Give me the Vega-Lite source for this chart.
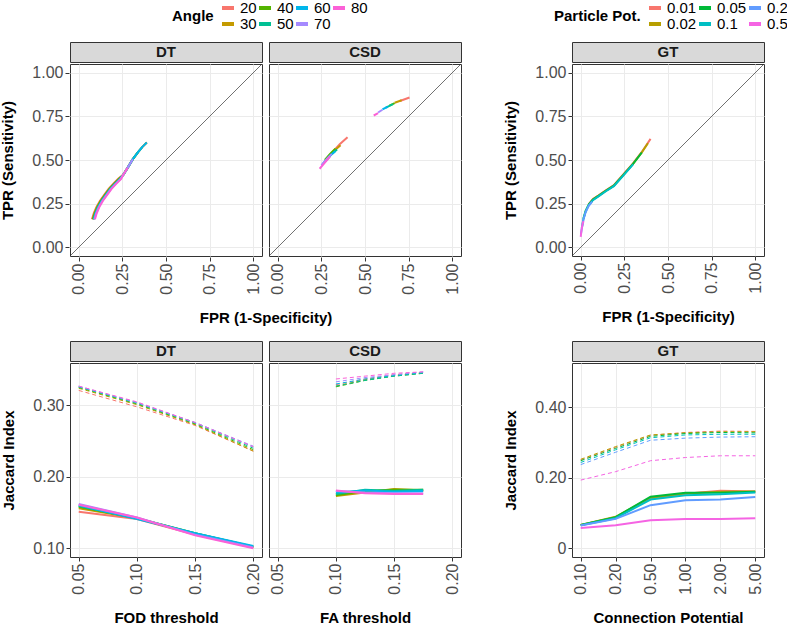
{
"$schema":"https://vega.github.io/schema/vega-lite/v6.json",
"padding":{"left":0,"top":0,"right":0,"bottom":0},
"config":{
 "font":"Liberation Sans",
 "view":{"stroke":"#333333","strokeWidth":1},
 "axis":{"labelFontSize":16,"labelColor":"#4D4D4D","titleFontSize":15,"titleFontWeight":"bold","titleColor":"#000000","tickColor":"#333333","tickSize":4,"domain":false,"gridColor":"#EBEBEB","labelPadding":2,"titlePadding":16,"labelOverlap":false,"labelFlush":false},
 "axisX":{"labelAngle":270},
 "legend":{"orient":"none","direction":"horizontal","titleOrient":"left","titleFontSize":15,"titleFontWeight":"bold","titleColor":"#000000","labelFontSize":15,"labelColor":"#000000","symbolType":"stroke","symbolSize":144,"symbolStrokeWidth":4,"rowPadding":0,"columnPadding":-8,"labelOffset":4,"titlePadding":6}
},
"datasets":{
 "roc":[
  {"panel":"DT","part":"diag","fpr":-0.05,"tpr":-0.05},{"panel":"DT","part":"diag","fpr":1.05,"tpr":1.05},
  {"panel":"CSD","part":"diag","fpr":-0.05,"tpr":-0.05},{"panel":"CSD","part":"diag","fpr":1.05,"tpr":1.05},
  {"panel":"DT","angle":20,"part":"a","fpr":0.076,"tpr":0.160},{"panel":"DT","angle":20,"part":"a","fpr":0.086,"tpr":0.195},{"panel":"DT","angle":20,"part":"a","fpr":0.101,"tpr":0.230},{"panel":"DT","angle":20,"part":"a","fpr":0.121,"tpr":0.265},{"panel":"DT","angle":20,"part":"a","fpr":0.146,"tpr":0.300},{"panel":"DT","angle":20,"part":"a","fpr":0.171,"tpr":0.335},{"panel":"DT","angle":20,"part":"a","fpr":0.196,"tpr":0.362},{"panel":"DT","angle":20,"part":"a","fpr":0.226,"tpr":0.392},{"panel":"DT","angle":20,"part":"a","fpr":0.255,"tpr":0.415},{"panel":"DT","angle":20,"part":"a","fpr":0.280,"tpr":0.455},{"panel":"DT","angle":20,"part":"a","fpr":0.310,"tpr":0.505},{"panel":"DT","angle":20,"part":"a","fpr":0.340,"tpr":0.545},{"panel":"DT","angle":20,"part":"a","fpr":0.365,"tpr":0.575},{"panel":"DT","angle":20,"part":"a","fpr":0.390,"tpr":0.600},
  {"panel":"DT","angle":30,"part":"a","fpr":0.079,"tpr":0.160},{"panel":"DT","angle":30,"part":"a","fpr":0.089,"tpr":0.195},{"panel":"DT","angle":30,"part":"a","fpr":0.104,"tpr":0.230},{"panel":"DT","angle":30,"part":"a","fpr":0.124,"tpr":0.265},{"panel":"DT","angle":30,"part":"a","fpr":0.149,"tpr":0.300},{"panel":"DT","angle":30,"part":"a","fpr":0.174,"tpr":0.335},{"panel":"DT","angle":30,"part":"a","fpr":0.199,"tpr":0.362},{"panel":"DT","angle":30,"part":"a","fpr":0.229,"tpr":0.392},{"panel":"DT","angle":30,"part":"a","fpr":0.255,"tpr":0.415},{"panel":"DT","angle":30,"part":"a","fpr":0.280,"tpr":0.455},{"panel":"DT","angle":30,"part":"a","fpr":0.310,"tpr":0.505},{"panel":"DT","angle":30,"part":"a","fpr":0.340,"tpr":0.545},{"panel":"DT","angle":30,"part":"a","fpr":0.365,"tpr":0.575},{"panel":"DT","angle":30,"part":"a","fpr":0.390,"tpr":0.600},
  {"panel":"DT","angle":40,"part":"a","fpr":0.082,"tpr":0.160},{"panel":"DT","angle":40,"part":"a","fpr":0.092,"tpr":0.195},{"panel":"DT","angle":40,"part":"a","fpr":0.107,"tpr":0.230},{"panel":"DT","angle":40,"part":"a","fpr":0.127,"tpr":0.265},{"panel":"DT","angle":40,"part":"a","fpr":0.152,"tpr":0.300},{"panel":"DT","angle":40,"part":"a","fpr":0.177,"tpr":0.335},{"panel":"DT","angle":40,"part":"a","fpr":0.202,"tpr":0.362},{"panel":"DT","angle":40,"part":"a","fpr":0.232,"tpr":0.392},{"panel":"DT","angle":40,"part":"a","fpr":0.255,"tpr":0.415},{"panel":"DT","angle":40,"part":"a","fpr":0.280,"tpr":0.455},{"panel":"DT","angle":40,"part":"a","fpr":0.310,"tpr":0.505},{"panel":"DT","angle":40,"part":"a","fpr":0.340,"tpr":0.545},
  {"panel":"DT","angle":50,"part":"a","fpr":0.085,"tpr":0.160},{"panel":"DT","angle":50,"part":"a","fpr":0.095,"tpr":0.195},{"panel":"DT","angle":50,"part":"a","fpr":0.110,"tpr":0.230},{"panel":"DT","angle":50,"part":"a","fpr":0.130,"tpr":0.265},{"panel":"DT","angle":50,"part":"a","fpr":0.155,"tpr":0.300},{"panel":"DT","angle":50,"part":"a","fpr":0.180,"tpr":0.335},{"panel":"DT","angle":50,"part":"a","fpr":0.205,"tpr":0.362},{"panel":"DT","angle":50,"part":"a","fpr":0.235,"tpr":0.392},{"panel":"DT","angle":50,"part":"a","fpr":0.255,"tpr":0.415},{"panel":"DT","angle":50,"part":"a","fpr":0.280,"tpr":0.455},{"panel":"DT","angle":50,"part":"a","fpr":0.310,"tpr":0.505},{"panel":"DT","angle":50,"part":"a","fpr":0.340,"tpr":0.545},{"panel":"DT","angle":50,"part":"a","fpr":0.365,"tpr":0.575},
  {"panel":"DT","angle":60,"part":"a","fpr":0.087,"tpr":0.160},{"panel":"DT","angle":60,"part":"a","fpr":0.097,"tpr":0.195},{"panel":"DT","angle":60,"part":"a","fpr":0.112,"tpr":0.230},{"panel":"DT","angle":60,"part":"a","fpr":0.132,"tpr":0.265},{"panel":"DT","angle":60,"part":"a","fpr":0.157,"tpr":0.300},{"panel":"DT","angle":60,"part":"a","fpr":0.182,"tpr":0.335},{"panel":"DT","angle":60,"part":"a","fpr":0.207,"tpr":0.362},{"panel":"DT","angle":60,"part":"a","fpr":0.237,"tpr":0.392},{"panel":"DT","angle":60,"part":"a","fpr":0.255,"tpr":0.415},{"panel":"DT","angle":60,"part":"a","fpr":0.280,"tpr":0.455},{"panel":"DT","angle":60,"part":"a","fpr":0.310,"tpr":0.505},{"panel":"DT","angle":60,"part":"a","fpr":0.340,"tpr":0.545},{"panel":"DT","angle":60,"part":"a","fpr":0.365,"tpr":0.575},{"panel":"DT","angle":60,"part":"a","fpr":0.390,"tpr":0.600},
  {"panel":"DT","angle":70,"part":"a","fpr":0.090,"tpr":0.160},{"panel":"DT","angle":70,"part":"a","fpr":0.100,"tpr":0.195},{"panel":"DT","angle":70,"part":"a","fpr":0.115,"tpr":0.230},{"panel":"DT","angle":70,"part":"a","fpr":0.135,"tpr":0.265},{"panel":"DT","angle":70,"part":"a","fpr":0.160,"tpr":0.300},{"panel":"DT","angle":70,"part":"a","fpr":0.185,"tpr":0.335},{"panel":"DT","angle":70,"part":"a","fpr":0.210,"tpr":0.362},{"panel":"DT","angle":70,"part":"a","fpr":0.240,"tpr":0.392},{"panel":"DT","angle":70,"part":"a","fpr":0.255,"tpr":0.415},{"panel":"DT","angle":70,"part":"a","fpr":0.280,"tpr":0.455},{"panel":"DT","angle":70,"part":"a","fpr":0.310,"tpr":0.505},
  {"panel":"DT","angle":80,"part":"a","fpr":0.093,"tpr":0.160},{"panel":"DT","angle":80,"part":"a","fpr":0.103,"tpr":0.195},{"panel":"DT","angle":80,"part":"a","fpr":0.118,"tpr":0.230},{"panel":"DT","angle":80,"part":"a","fpr":0.138,"tpr":0.265},{"panel":"DT","angle":80,"part":"a","fpr":0.163,"tpr":0.300},{"panel":"DT","angle":80,"part":"a","fpr":0.188,"tpr":0.335},{"panel":"DT","angle":80,"part":"a","fpr":0.213,"tpr":0.362},{"panel":"DT","angle":80,"part":"a","fpr":0.243,"tpr":0.392},{"panel":"DT","angle":80,"part":"a","fpr":0.255,"tpr":0.415},{"panel":"DT","angle":80,"part":"a","fpr":0.280,"tpr":0.455},
  {"panel":"CSD","angle":20,"part":"a","fpr":0.310,"tpr":0.540},{"panel":"CSD","angle":20,"part":"a","fpr":0.355,"tpr":0.590},{"panel":"CSD","angle":20,"part":"a","fpr":0.400,"tpr":0.630},
  {"panel":"CSD","angle":20,"part":"b","fpr":0.700,"tpr":0.838},{"panel":"CSD","angle":20,"part":"b","fpr":0.755,"tpr":0.858},
  {"panel":"CSD","angle":30,"part":"a","fpr":0.290,"tpr":0.520},{"panel":"CSD","angle":30,"part":"a","fpr":0.325,"tpr":0.555},{"panel":"CSD","angle":30,"part":"a","fpr":0.360,"tpr":0.585},
  {"panel":"CSD","angle":30,"part":"b","fpr":0.670,"tpr":0.828},{"panel":"CSD","angle":30,"part":"b","fpr":0.710,"tpr":0.842},
  {"panel":"CSD","angle":40,"part":"a","fpr":0.270,"tpr":0.500},{"panel":"CSD","angle":40,"part":"a","fpr":0.300,"tpr":0.535},{"panel":"CSD","angle":40,"part":"a","fpr":0.330,"tpr":0.565},
  {"panel":"CSD","angle":40,"part":"b","fpr":0.640,"tpr":0.812},{"panel":"CSD","angle":40,"part":"b","fpr":0.670,"tpr":0.826},
  {"panel":"CSD","angle":50,"part":"a","fpr":0.270,"tpr":0.490},{"panel":"CSD","angle":50,"part":"a","fpr":0.305,"tpr":0.530},{"panel":"CSD","angle":50,"part":"a","fpr":0.340,"tpr":0.560},
  {"panel":"CSD","angle":50,"part":"b","fpr":0.620,"tpr":0.800},{"panel":"CSD","angle":50,"part":"b","fpr":0.660,"tpr":0.820},
  {"panel":"CSD","angle":60,"part":"a","fpr":0.260,"tpr":0.480},{"panel":"CSD","angle":60,"part":"a","fpr":0.295,"tpr":0.520},{"panel":"CSD","angle":60,"part":"a","fpr":0.330,"tpr":0.550},
  {"panel":"CSD","angle":60,"part":"b","fpr":0.600,"tpr":0.790},{"panel":"CSD","angle":60,"part":"b","fpr":0.630,"tpr":0.805},
  {"panel":"CSD","angle":70,"part":"a","fpr":0.250,"tpr":0.470},{"panel":"CSD","angle":70,"part":"a","fpr":0.280,"tpr":0.505},{"panel":"CSD","angle":70,"part":"a","fpr":0.310,"tpr":0.535},
  {"panel":"CSD","angle":70,"part":"b","fpr":0.575,"tpr":0.772},{"panel":"CSD","angle":70,"part":"b","fpr":0.600,"tpr":0.788},
  {"panel":"CSD","angle":80,"part":"a","fpr":0.240,"tpr":0.450},{"panel":"CSD","angle":80,"part":"a","fpr":0.270,"tpr":0.485},{"panel":"CSD","angle":80,"part":"a","fpr":0.300,"tpr":0.520},
  {"panel":"CSD","angle":80,"part":"b","fpr":0.550,"tpr":0.755},{"panel":"CSD","angle":80,"part":"b","fpr":0.575,"tpr":0.768}
 ],
 "diag":[{"fpr":-0.05,"tpr":-0.05},{"fpr":1.05,"tpr":1.05}],
 "gtroc":[
  {"pp":"0.01","fpr":0.045,"tpr":0.246},{"pp":"0.01","fpr":0.070,"tpr":0.276},{"pp":"0.01","fpr":0.100,"tpr":0.296},{"pp":"0.01","fpr":0.140,"tpr":0.324},{"pp":"0.01","fpr":0.190,"tpr":0.356},{"pp":"0.01","fpr":0.250,"tpr":0.424},{"pp":"0.01","fpr":0.300,"tpr":0.481},{"pp":"0.01","fpr":0.350,"tpr":0.546},{"pp":"0.01","fpr":0.400,"tpr":0.621},
  {"pp":"0.02","fpr":0.045,"tpr":0.244},{"pp":"0.02","fpr":0.070,"tpr":0.274},{"pp":"0.02","fpr":0.100,"tpr":0.294},{"pp":"0.02","fpr":0.140,"tpr":0.322},{"pp":"0.02","fpr":0.190,"tpr":0.354},{"pp":"0.02","fpr":0.250,"tpr":0.422},{"pp":"0.02","fpr":0.300,"tpr":0.479},{"pp":"0.02","fpr":0.350,"tpr":0.544},{"pp":"0.02","fpr":0.385,"tpr":0.596},
  {"pp":"0.05","fpr":0.015,"tpr":0.163},{"pp":"0.05","fpr":0.028,"tpr":0.208},{"pp":"0.05","fpr":0.045,"tpr":0.243},{"pp":"0.05","fpr":0.070,"tpr":0.273},{"pp":"0.05","fpr":0.100,"tpr":0.293},{"pp":"0.05","fpr":0.140,"tpr":0.321},{"pp":"0.05","fpr":0.190,"tpr":0.353},{"pp":"0.05","fpr":0.250,"tpr":0.421},{"pp":"0.05","fpr":0.300,"tpr":0.478},{"pp":"0.05","fpr":0.350,"tpr":0.543},
  {"pp":"0.1","fpr":0.006,"tpr":0.110},{"pp":"0.1","fpr":0.015,"tpr":0.160},{"pp":"0.1","fpr":0.028,"tpr":0.205},{"pp":"0.1","fpr":0.045,"tpr":0.240},{"pp":"0.1","fpr":0.070,"tpr":0.270},{"pp":"0.1","fpr":0.100,"tpr":0.290},{"pp":"0.1","fpr":0.140,"tpr":0.318},{"pp":"0.1","fpr":0.190,"tpr":0.350},{"pp":"0.1","fpr":0.250,"tpr":0.418},{"pp":"0.1","fpr":0.300,"tpr":0.475},
  {"pp":"0.2","fpr":0.001,"tpr":0.075},{"pp":"0.2","fpr":0.006,"tpr":0.106},{"pp":"0.2","fpr":0.015,"tpr":0.156},{"pp":"0.2","fpr":0.028,"tpr":0.201},{"pp":"0.2","fpr":0.045,"tpr":0.236},{"pp":"0.2","fpr":0.065,"tpr":0.262},
  {"pp":"0.5","fpr":0.000,"tpr":0.060},{"pp":"0.5","fpr":0.004,"tpr":0.095},{"pp":"0.5","fpr":0.010,"tpr":0.130},{"pp":"0.5","fpr":0.016,"tpr":0.150}
 ],
 "jac":[
  {"panel":"DT","angle":20,"type":"dashed","thr":0.05,"jac":0.321},{"panel":"DT","angle":20,"type":"dashed","thr":0.10,"jac":0.298},{"panel":"DT","angle":20,"type":"dashed","thr":0.15,"jac":0.272},{"panel":"DT","angle":20,"type":"dashed","thr":0.20,"jac":0.236},
  {"panel":"DT","angle":30,"type":"dashed","thr":0.05,"jac":0.324},{"panel":"DT","angle":30,"type":"dashed","thr":0.10,"jac":0.301},{"panel":"DT","angle":30,"type":"dashed","thr":0.15,"jac":0.273},{"panel":"DT","angle":30,"type":"dashed","thr":0.20,"jac":0.236},
  {"panel":"DT","angle":40,"type":"dashed","thr":0.05,"jac":0.325},{"panel":"DT","angle":40,"type":"dashed","thr":0.10,"jac":0.302},{"panel":"DT","angle":40,"type":"dashed","thr":0.15,"jac":0.274},{"panel":"DT","angle":40,"type":"dashed","thr":0.20,"jac":0.238},
  {"panel":"DT","angle":50,"type":"dashed","thr":0.05,"jac":0.326},{"panel":"DT","angle":50,"type":"dashed","thr":0.10,"jac":0.303},{"panel":"DT","angle":50,"type":"dashed","thr":0.15,"jac":0.275},{"panel":"DT","angle":50,"type":"dashed","thr":0.20,"jac":0.240},
  {"panel":"DT","angle":60,"type":"dashed","thr":0.05,"jac":0.326},{"panel":"DT","angle":60,"type":"dashed","thr":0.10,"jac":0.304},{"panel":"DT","angle":60,"type":"dashed","thr":0.15,"jac":0.276},{"panel":"DT","angle":60,"type":"dashed","thr":0.20,"jac":0.242},
  {"panel":"DT","angle":70,"type":"dashed","thr":0.05,"jac":0.327},{"panel":"DT","angle":70,"type":"dashed","thr":0.10,"jac":0.304},{"panel":"DT","angle":70,"type":"dashed","thr":0.15,"jac":0.276},{"panel":"DT","angle":70,"type":"dashed","thr":0.20,"jac":0.243},
  {"panel":"DT","angle":80,"type":"dashed","thr":0.05,"jac":0.327},{"panel":"DT","angle":80,"type":"dashed","thr":0.10,"jac":0.305},{"panel":"DT","angle":80,"type":"dashed","thr":0.15,"jac":0.276},{"panel":"DT","angle":80,"type":"dashed","thr":0.20,"jac":0.242},
  {"panel":"DT","angle":20,"type":"solid","thr":0.05,"jac":0.151},{"panel":"DT","angle":20,"type":"solid","thr":0.10,"jac":0.141},{"panel":"DT","angle":20,"type":"solid","thr":0.15,"jac":0.119},{"panel":"DT","angle":20,"type":"solid","thr":0.20,"jac":0.101},
  {"panel":"DT","angle":30,"type":"solid","thr":0.05,"jac":0.156},{"panel":"DT","angle":30,"type":"solid","thr":0.10,"jac":0.142},{"panel":"DT","angle":30,"type":"solid","thr":0.15,"jac":0.120},{"panel":"DT","angle":30,"type":"solid","thr":0.20,"jac":0.101},
  {"panel":"DT","angle":40,"type":"solid","thr":0.05,"jac":0.158},{"panel":"DT","angle":40,"type":"solid","thr":0.10,"jac":0.142},{"panel":"DT","angle":40,"type":"solid","thr":0.15,"jac":0.121},{"panel":"DT","angle":40,"type":"solid","thr":0.20,"jac":0.102},
  {"panel":"DT","angle":50,"type":"solid","thr":0.05,"jac":0.159},{"panel":"DT","angle":50,"type":"solid","thr":0.10,"jac":0.142},{"panel":"DT","angle":50,"type":"solid","thr":0.15,"jac":0.121},{"panel":"DT","angle":50,"type":"solid","thr":0.20,"jac":0.102},
  {"panel":"DT","angle":60,"type":"solid","thr":0.05,"jac":0.160},{"panel":"DT","angle":60,"type":"solid","thr":0.10,"jac":0.141},{"panel":"DT","angle":60,"type":"solid","thr":0.15,"jac":0.121},{"panel":"DT","angle":60,"type":"solid","thr":0.20,"jac":0.103},
  {"panel":"DT","angle":70,"type":"solid","thr":0.05,"jac":0.162},{"panel":"DT","angle":70,"type":"solid","thr":0.10,"jac":0.143},{"panel":"DT","angle":70,"type":"solid","thr":0.15,"jac":0.119},{"panel":"DT","angle":70,"type":"solid","thr":0.20,"jac":0.101},
  {"panel":"DT","angle":80,"type":"solid","thr":0.05,"jac":0.161},{"panel":"DT","angle":80,"type":"solid","thr":0.10,"jac":0.143},{"panel":"DT","angle":80,"type":"solid","thr":0.15,"jac":0.118},{"panel":"DT","angle":80,"type":"solid","thr":0.20,"jac":0.100},
  {"panel":"CSD","angle":20,"type":"dashed","thr":0.10,"jac":0.329},{"panel":"CSD","angle":20,"type":"dashed","thr":0.125,"jac":0.337},{"panel":"CSD","angle":20,"type":"dashed","thr":0.15,"jac":0.343},{"panel":"CSD","angle":20,"type":"dashed","thr":0.175,"jac":0.346},
  {"panel":"CSD","angle":30,"type":"dashed","thr":0.10,"jac":0.327},{"panel":"CSD","angle":30,"type":"dashed","thr":0.125,"jac":0.336},{"panel":"CSD","angle":30,"type":"dashed","thr":0.15,"jac":0.342},{"panel":"CSD","angle":30,"type":"dashed","thr":0.175,"jac":0.346},
  {"panel":"CSD","angle":40,"type":"dashed","thr":0.10,"jac":0.326},{"panel":"CSD","angle":40,"type":"dashed","thr":0.125,"jac":0.335},{"panel":"CSD","angle":40,"type":"dashed","thr":0.15,"jac":0.341},{"panel":"CSD","angle":40,"type":"dashed","thr":0.175,"jac":0.345},
  {"panel":"CSD","angle":50,"type":"dashed","thr":0.10,"jac":0.327},{"panel":"CSD","angle":50,"type":"dashed","thr":0.125,"jac":0.335},{"panel":"CSD","angle":50,"type":"dashed","thr":0.15,"jac":0.341},{"panel":"CSD","angle":50,"type":"dashed","thr":0.175,"jac":0.345},
  {"panel":"CSD","angle":60,"type":"dashed","thr":0.10,"jac":0.330},{"panel":"CSD","angle":60,"type":"dashed","thr":0.125,"jac":0.337},{"panel":"CSD","angle":60,"type":"dashed","thr":0.15,"jac":0.342},{"panel":"CSD","angle":60,"type":"dashed","thr":0.175,"jac":0.346},
  {"panel":"CSD","angle":70,"type":"dashed","thr":0.10,"jac":0.333},{"panel":"CSD","angle":70,"type":"dashed","thr":0.125,"jac":0.339},{"panel":"CSD","angle":70,"type":"dashed","thr":0.15,"jac":0.343},{"panel":"CSD","angle":70,"type":"dashed","thr":0.175,"jac":0.347},
  {"panel":"CSD","angle":80,"type":"dashed","thr":0.10,"jac":0.337},{"panel":"CSD","angle":80,"type":"dashed","thr":0.125,"jac":0.341},{"panel":"CSD","angle":80,"type":"dashed","thr":0.15,"jac":0.345},{"panel":"CSD","angle":80,"type":"dashed","thr":0.175,"jac":0.347},
  {"panel":"CSD","angle":20,"type":"solid","thr":0.10,"jac":0.176},{"panel":"CSD","angle":20,"type":"solid","thr":0.125,"jac":0.179},{"panel":"CSD","angle":20,"type":"solid","thr":0.15,"jac":0.181},{"panel":"CSD","angle":20,"type":"solid","thr":0.175,"jac":0.180},
  {"panel":"CSD","angle":30,"type":"solid","thr":0.10,"jac":0.173},{"panel":"CSD","angle":30,"type":"solid","thr":0.125,"jac":0.178},{"panel":"CSD","angle":30,"type":"solid","thr":0.15,"jac":0.183},{"panel":"CSD","angle":30,"type":"solid","thr":0.175,"jac":0.181},
  {"panel":"CSD","angle":40,"type":"solid","thr":0.10,"jac":0.174},{"panel":"CSD","angle":40,"type":"solid","thr":0.125,"jac":0.180},{"panel":"CSD","angle":40,"type":"solid","thr":0.15,"jac":0.182},{"panel":"CSD","angle":40,"type":"solid","thr":0.175,"jac":0.182},
  {"panel":"CSD","angle":50,"type":"solid","thr":0.10,"jac":0.176},{"panel":"CSD","angle":50,"type":"solid","thr":0.125,"jac":0.182},{"panel":"CSD","angle":50,"type":"solid","thr":0.15,"jac":0.180},{"panel":"CSD","angle":50,"type":"solid","thr":0.175,"jac":0.182},
  {"panel":"CSD","angle":60,"type":"solid","thr":0.10,"jac":0.178},{"panel":"CSD","angle":60,"type":"solid","thr":0.125,"jac":0.181},{"panel":"CSD","angle":60,"type":"solid","thr":0.15,"jac":0.179},{"panel":"CSD","angle":60,"type":"solid","thr":0.175,"jac":0.180},
  {"panel":"CSD","angle":70,"type":"solid","thr":0.10,"jac":0.180},{"panel":"CSD","angle":70,"type":"solid","thr":0.125,"jac":0.178},{"panel":"CSD","angle":70,"type":"solid","thr":0.15,"jac":0.177},{"panel":"CSD","angle":70,"type":"solid","thr":0.175,"jac":0.177},
  {"panel":"CSD","angle":80,"type":"solid","thr":0.10,"jac":0.181},{"panel":"CSD","angle":80,"type":"solid","thr":0.125,"jac":0.177},{"panel":"CSD","angle":80,"type":"solid","thr":0.15,"jac":0.176},{"panel":"CSD","angle":80,"type":"solid","thr":0.175,"jac":0.176}
 ],
 "gtjac":[
  {"pp":"0.01","type":"dashed","cp":"0.10","jac":0.250},{"pp":"0.01","type":"dashed","cp":"0.20","jac":0.286},{"pp":"0.01","type":"dashed","cp":"0.50","jac":0.320},{"pp":"0.01","type":"dashed","cp":"1.00","jac":0.328},{"pp":"0.01","type":"dashed","cp":"2.00","jac":0.332},{"pp":"0.01","type":"dashed","cp":"5.00","jac":0.331},
  {"pp":"0.02","type":"dashed","cp":"0.10","jac":0.252},{"pp":"0.02","type":"dashed","cp":"0.20","jac":0.288},{"pp":"0.02","type":"dashed","cp":"0.50","jac":0.321},{"pp":"0.02","type":"dashed","cp":"1.00","jac":0.327},{"pp":"0.02","type":"dashed","cp":"2.00","jac":0.330},{"pp":"0.02","type":"dashed","cp":"5.00","jac":0.330},
  {"pp":"0.05","type":"dashed","cp":"0.10","jac":0.248},{"pp":"0.05","type":"dashed","cp":"0.20","jac":0.283},{"pp":"0.05","type":"dashed","cp":"0.50","jac":0.317},{"pp":"0.05","type":"dashed","cp":"1.00","jac":0.325},{"pp":"0.05","type":"dashed","cp":"2.00","jac":0.328},{"pp":"0.05","type":"dashed","cp":"5.00","jac":0.327},
  {"pp":"0.1","type":"dashed","cp":"0.10","jac":0.243},{"pp":"0.1","type":"dashed","cp":"0.20","jac":0.279},{"pp":"0.1","type":"dashed","cp":"0.50","jac":0.313},{"pp":"0.1","type":"dashed","cp":"1.00","jac":0.321},{"pp":"0.1","type":"dashed","cp":"2.00","jac":0.323},{"pp":"0.1","type":"dashed","cp":"5.00","jac":0.323},
  {"pp":"0.2","type":"dashed","cp":"0.10","jac":0.237},{"pp":"0.2","type":"dashed","cp":"0.20","jac":0.272},{"pp":"0.2","type":"dashed","cp":"0.50","jac":0.306},{"pp":"0.2","type":"dashed","cp":"1.00","jac":0.312},{"pp":"0.2","type":"dashed","cp":"2.00","jac":0.315},{"pp":"0.2","type":"dashed","cp":"5.00","jac":0.316},
  {"pp":"0.5","type":"dashed","cp":"0.10","jac":0.193},{"pp":"0.5","type":"dashed","cp":"0.20","jac":0.217},{"pp":"0.5","type":"dashed","cp":"0.50","jac":0.248},{"pp":"0.5","type":"dashed","cp":"1.00","jac":0.257},{"pp":"0.5","type":"dashed","cp":"2.00","jac":0.262},{"pp":"0.5","type":"dashed","cp":"5.00","jac":0.262},
  {"pp":"0.01","type":"solid","cp":"0.10","jac":0.066},{"pp":"0.01","type":"solid","cp":"0.20","jac":0.087},{"pp":"0.01","type":"solid","cp":"0.50","jac":0.141},{"pp":"0.01","type":"solid","cp":"1.00","jac":0.154},{"pp":"0.01","type":"solid","cp":"2.00","jac":0.163},{"pp":"0.01","type":"solid","cp":"5.00","jac":0.161},
  {"pp":"0.02","type":"solid","cp":"0.10","jac":0.066},{"pp":"0.02","type":"solid","cp":"0.20","jac":0.089},{"pp":"0.02","type":"solid","cp":"0.50","jac":0.143},{"pp":"0.02","type":"solid","cp":"1.00","jac":0.155},{"pp":"0.02","type":"solid","cp":"2.00","jac":0.160},{"pp":"0.02","type":"solid","cp":"5.00","jac":0.161},
  {"pp":"0.05","type":"solid","cp":"0.10","jac":0.066},{"pp":"0.05","type":"solid","cp":"0.20","jac":0.088},{"pp":"0.05","type":"solid","cp":"0.50","jac":0.146},{"pp":"0.05","type":"solid","cp":"1.00","jac":0.157},{"pp":"0.05","type":"solid","cp":"2.00","jac":0.157},{"pp":"0.05","type":"solid","cp":"5.00","jac":0.160},
  {"pp":"0.1","type":"solid","cp":"0.10","jac":0.065},{"pp":"0.1","type":"solid","cp":"0.20","jac":0.085},{"pp":"0.1","type":"solid","cp":"0.50","jac":0.138},{"pp":"0.1","type":"solid","cp":"1.00","jac":0.150},{"pp":"0.1","type":"solid","cp":"2.00","jac":0.153},{"pp":"0.1","type":"solid","cp":"5.00","jac":0.158},
  {"pp":"0.2","type":"solid","cp":"0.10","jac":0.064},{"pp":"0.2","type":"solid","cp":"0.20","jac":0.083},{"pp":"0.2","type":"solid","cp":"0.50","jac":0.122},{"pp":"0.2","type":"solid","cp":"1.00","jac":0.136},{"pp":"0.2","type":"solid","cp":"2.00","jac":0.138},{"pp":"0.2","type":"solid","cp":"5.00","jac":0.145},
  {"pp":"0.5","type":"solid","cp":"0.10","jac":0.057},{"pp":"0.5","type":"solid","cp":"0.20","jac":0.065},{"pp":"0.5","type":"solid","cp":"0.50","jac":0.079},{"pp":"0.5","type":"solid","cp":"1.00","jac":0.083},{"pp":"0.5","type":"solid","cp":"2.00","jac":0.083},{"pp":"0.5","type":"solid","cp":"5.00","jac":0.085}
 ]
},
"columns":2,
"spacing":{"row":14,"column":41},
"resolve":{"scale":{"color":"independent","x":"independent","y":"independent"},"legend":{"color":"independent"}},
"concat":[
 {"vconcat":[
   {"hconcat":[
     {"width":192,"height":20,"view":{"fill":"#D9D9D9","stroke":"#333333"},"data":{"values":[{"label":"DT"}]},"mark":{"type":"text","fontSize":15,"fontWeight":"bold","color":"#1A1A1A"},"encoding":{"text":{"field":"label"}}},
     {"width":192,"height":20,"view":{"fill":"#D9D9D9","stroke":"#333333"},"data":{"values":[{"label":"CSD"}]},"mark":{"type":"text","fontSize":15,"fontWeight":"bold","color":"#1A1A1A"},"encoding":{"text":{"field":"label"}}}
   ],"spacing":5},
   {"data":{"name":"roc"},
    "facet":{"column":{"field":"panel","type":"nominal","sort":["DT","CSD"],"title":"FPR (1-Specificity)","header":{"labels":false,"titleOrient":"bottom","titleFontSize":15,"titleFontWeight":"bold","titleColor":"#000000","titlePadding":6}}},
    "spacing":5,
    "spec":{"width":192,"height":192,
     "layer":[
      {"transform":[{"filter":"datum.part == 'diag'"}],
       "mark":{"type":"line","color":"#333333","strokeWidth":0.7,"clip":true},
       "encoding":{
        "x":{"field":"fpr","type":"quantitative","title":null,"scale":{"domain":[-0.05,1.05],"nice":false,"zero":false},
             "axis":{"values":[0,0.125,0.25,0.375,0.5,0.625,0.75,0.875,1],"format":".2f","labelExpr":"abs(datum.value*4-round(datum.value*4))>0.01 ? '' : datum.label","tickOpacity":{"condition":{"test":"abs(datum.value*4-round(datum.value*4))>0.01","value":0},"value":1},"gridWidth":{"condition":{"test":"abs(datum.value*4-round(datum.value*4))>0.01","value":0.5},"value":1}}},
        "y":{"field":"tpr","type":"quantitative","title":"TPR (Sensitivity)","scale":{"domain":[-0.05,1.05],"nice":false,"zero":false},
             "axis":{"values":[0,0.125,0.25,0.375,0.5,0.625,0.75,0.875,1],"format":".2f","labelExpr":"abs(datum.value*4-round(datum.value*4))>0.01 ? '' : datum.label","tickOpacity":{"condition":{"test":"abs(datum.value*4-round(datum.value*4))>0.01","value":0},"value":1},"gridWidth":{"condition":{"test":"abs(datum.value*4-round(datum.value*4))>0.01","value":0.5},"value":1}}}
       }},
      {"transform":[{"filter":"datum.part != 'diag'"}],
       "mark":{"type":"line","strokeWidth":2,"clip":true},
       "encoding":{
        "x":{"field":"fpr","type":"quantitative"},
        "y":{"field":"tpr","type":"quantitative"},
        "detail":{"field":"part"},
        "color":{"field":"angle","type":"nominal","title":"Angle","scale":{"domain":[20,40,60,80,30,50,70],"range":["#F8766D","#53B400","#00B6EB","#FB61D7","#C49A00","#00C094","#A58AFF"]},"legend":{"columns":4,"columnPadding":-6,"legendX":102,"legendY":-42}}
       }}
     ]}
   }
  ],"spacing":0},
 {"vconcat":[
   {"width":192,"height":20,"view":{"fill":"#D9D9D9","stroke":"#333333"},"data":{"values":[{"label":"GT"}]},"mark":{"type":"text","fontSize":15,"fontWeight":"bold","color":"#1A1A1A"},"encoding":{"text":{"field":"label"}}},
   {"width":192,"height":192,
    "layer":[
     {"data":{"name":"diag"},
      "mark":{"type":"line","color":"#333333","strokeWidth":0.7,"clip":true},
      "encoding":{
        "x":{"field":"fpr","type":"quantitative","title":"FPR (1-Specificity)","scale":{"domain":[-0.05,1.05],"nice":false,"zero":false},
             "axis":{"values":[0,0.125,0.25,0.375,0.5,0.625,0.75,0.875,1],"format":".2f","labelExpr":"abs(datum.value*4-round(datum.value*4))>0.01 ? '' : datum.label","tickOpacity":{"condition":{"test":"abs(datum.value*4-round(datum.value*4))>0.01","value":0},"value":1},"gridWidth":{"condition":{"test":"abs(datum.value*4-round(datum.value*4))>0.01","value":0.5},"value":1}}},
        "y":{"field":"tpr","type":"quantitative","title":"TPR (Sensitivity)","scale":{"domain":[-0.05,1.05],"nice":false,"zero":false},
             "axis":{"values":[0,0.125,0.25,0.375,0.5,0.625,0.75,0.875,1],"format":".2f","labelExpr":"abs(datum.value*4-round(datum.value*4))>0.01 ? '' : datum.label","tickOpacity":{"condition":{"test":"abs(datum.value*4-round(datum.value*4))>0.01","value":0},"value":1},"gridWidth":{"condition":{"test":"abs(datum.value*4-round(datum.value*4))>0.01","value":0.5},"value":1}}}
      }},
     {"data":{"name":"gtroc"},
      "mark":{"type":"line","strokeWidth":2,"clip":true},
      "encoding":{
        "x":{"field":"fpr","type":"quantitative"},
        "y":{"field":"tpr","type":"quantitative"},
        "color":{"field":"pp","type":"nominal","title":"Particle Pot.","scale":{"domain":["0.01","0.05","0.2","0.02","0.1","0.5"],"range":["#F8766D","#00BA38","#619CFF","#B79F00","#00BFC4","#F564E3"]},"legend":{"columns":3,"columnPadding":-9,"legendX":-18,"legendY":-42}}
      }}
    ]}
  ],"spacing":0},
 {"vconcat":[
   {"hconcat":[
     {"width":192,"height":20,"view":{"fill":"#D9D9D9","stroke":"#333333"},"data":{"values":[{"label":"DT"}]},"mark":{"type":"text","fontSize":15,"fontWeight":"bold","color":"#1A1A1A"},"encoding":{"text":{"field":"label"}}},
     {"width":192,"height":20,"view":{"fill":"#D9D9D9","stroke":"#333333"},"data":{"values":[{"label":"CSD"}]},"mark":{"type":"text","fontSize":15,"fontWeight":"bold","color":"#1A1A1A"},"encoding":{"text":{"field":"label"}}}
   ],"spacing":5},
   {"hconcat":[
     {"width":192,"height":194,"data":{"name":"jac"},"transform":[{"filter":"datum.panel == 'DT'"}],
      "layer":[
       {"transform":[{"filter":"datum.type == 'dashed'"}],
        "mark":{"type":"line","strokeWidth":1,"strokeDash":[4,3]},
        "encoding":{
         "x":{"field":"thr","type":"quantitative","title":"FOD threshold","scale":{"domain":[0.0425,0.2075],"nice":false,"zero":false},
              "axis":{"values":[0.05,0.075,0.1,0.125,0.15,0.175,0.2],"format":".2f","labelExpr":"abs(datum.value*20-round(datum.value*20))>0.01 ? '' : datum.label","tickOpacity":{"condition":{"test":"abs(datum.value*20-round(datum.value*20))>0.01","value":0},"value":1},"gridWidth":{"condition":{"test":"abs(datum.value*20-round(datum.value*20))>0.01","value":0.5},"value":1}}},
         "y":{"field":"jac","type":"quantitative","title":"Jaccard Index","scale":{"domain":[0.0877,0.3594],"nice":false,"zero":false},
              "axis":{"values":[0.1,0.15,0.2,0.25,0.3,0.35],"format":".2f","labelExpr":"abs(datum.value*10-round(datum.value*10))>0.01 ? '' : datum.label","tickOpacity":{"condition":{"test":"abs(datum.value*10-round(datum.value*10))>0.01","value":0},"value":1},"gridWidth":{"condition":{"test":"abs(datum.value*10-round(datum.value*10))>0.01","value":0.5},"value":1}}},
         "color":{"field":"angle","type":"nominal","scale":{"domain":[20,40,60,80,30,50,70],"range":["#F8766D","#53B400","#00B6EB","#FB61D7","#C49A00","#00C094","#A58AFF"]},"legend":null}
        }},
       {"transform":[{"filter":"datum.type == 'solid'"}],
        "mark":{"type":"line","strokeWidth":2},
        "encoding":{
         "x":{"field":"thr","type":"quantitative"},
         "y":{"field":"jac","type":"quantitative"},
         "color":{"field":"angle","type":"nominal","legend":null}
        }}
      ]},
     {"width":192,"height":194,"data":{"name":"jac"},"transform":[{"filter":"datum.panel == 'CSD'"}],
      "layer":[
       {"transform":[{"filter":"datum.type == 'dashed'"}],
        "mark":{"type":"line","strokeWidth":1,"strokeDash":[4,3]},
        "encoding":{
         "x":{"field":"thr","type":"quantitative","title":"FA threshold","scale":{"domain":[0.0425,0.2075],"nice":false,"zero":false},
              "axis":{"values":[0.05,0.075,0.1,0.125,0.15,0.175,0.2],"format":".2f","labelExpr":"abs(datum.value*20-round(datum.value*20))>0.01 ? '' : datum.label","tickOpacity":{"condition":{"test":"abs(datum.value*20-round(datum.value*20))>0.01","value":0},"value":1},"gridWidth":{"condition":{"test":"abs(datum.value*20-round(datum.value*20))>0.01","value":0.5},"value":1}}},
         "y":{"field":"jac","type":"quantitative","title":null,"scale":{"domain":[0.0877,0.3594],"nice":false,"zero":false},
              "axis":{"values":[0.1,0.15,0.2,0.25,0.3,0.35],"labels":false,"ticks":false,"gridWidth":{"condition":{"test":"abs(datum.value*10-round(datum.value*10))>0.01","value":0.5},"value":1}}},
         "color":{"field":"angle","type":"nominal","scale":{"domain":[20,40,60,80,30,50,70],"range":["#F8766D","#53B400","#00B6EB","#FB61D7","#C49A00","#00C094","#A58AFF"]},"legend":null}
        }},
       {"transform":[{"filter":"datum.type == 'solid'"}],
        "mark":{"type":"line","strokeWidth":2},
        "encoding":{
         "x":{"field":"thr","type":"quantitative"},
         "y":{"field":"jac","type":"quantitative"},
         "color":{"field":"angle","type":"nominal","legend":null}
        }}
      ]}
   ],"spacing":5}
  ],"spacing":0},
 {"vconcat":[
   {"width":192,"height":20,"view":{"fill":"#D9D9D9","stroke":"#333333"},"data":{"values":[{"label":"GT"}]},"mark":{"type":"text","fontSize":15,"fontWeight":"bold","color":"#1A1A1A"},"encoding":{"text":{"field":"label"}}},
   {"width":192,"height":194,"data":{"name":"gtjac"},
    "layer":[
     {"transform":[{"filter":"datum.type == 'dashed'"}],
      "mark":{"type":"line","strokeWidth":1,"strokeDash":[4,3]},
      "encoding":{
       "x":{"field":"cp","type":"ordinal","title":"Connection Potential","sort":["0.10","0.20","0.50","1.00","2.00","5.00"],"scale":{"type":"point","padding":0.25},"axis":{"grid":true,"gridWidth":1}},
       "y":{"field":"jac","type":"quantitative","title":"Jaccard Index","scale":{"domain":[-0.025,0.525],"nice":false,"zero":false},
            "axis":{"values":[0,0.05,0.1,0.15,0.2,0.25,0.3,0.35,0.4,0.45,0.5],"format":".2f","labelExpr":"abs(datum.value*10-round(datum.value*10))>0.01 ? '' : (datum.value == 0 ? '0' : datum.label)","tickOpacity":{"condition":{"test":"abs(datum.value*10-round(datum.value*10))>0.01","value":0},"value":1},"gridWidth":{"condition":{"test":"abs(datum.value*10-round(datum.value*10))>0.01","value":0.5},"value":1}}},
       "color":{"field":"pp","type":"nominal","scale":{"domain":["0.01","0.05","0.2","0.02","0.1","0.5"],"range":["#F8766D","#00BA38","#619CFF","#B79F00","#00BFC4","#F564E3"]},"legend":null}
      }},
     {"transform":[{"filter":"datum.type == 'solid'"}],
      "mark":{"type":"line","strokeWidth":2},
      "encoding":{
       "x":{"field":"cp","type":"ordinal","sort":["0.10","0.20","0.50","1.00","2.00","5.00"]},
       "y":{"field":"jac","type":"quantitative"},
       "color":{"field":"pp","type":"nominal","legend":null}
      }}
    ]}
  ],"spacing":0}
]
}
